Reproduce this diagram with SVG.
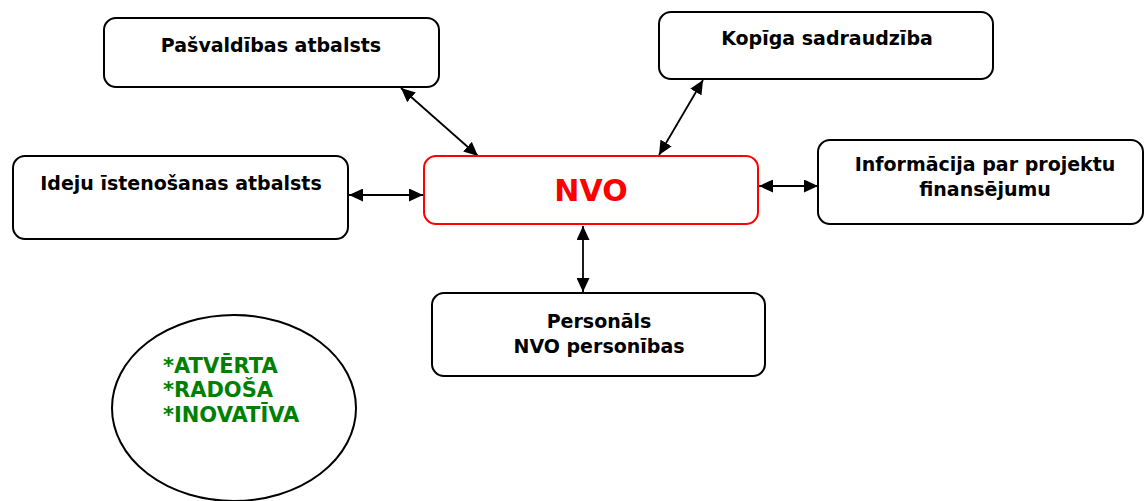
<svg xmlns="http://www.w3.org/2000/svg" width="1145" height="501" viewBox="0 0 1145 501">
<defs>
<style>
.box{fill:#fff;stroke:#000;stroke-width:2}
.main{fill:#fff;stroke:#ff0000;stroke-width:2}
.lbl{font-family:"DejaVu Sans",Verdana,sans-serif;font-weight:bold;font-size:19px;fill:#000;text-anchor:middle}
.nvo{font-family:"DejaVu Sans",Verdana,sans-serif;font-weight:bold;font-size:30px;fill:#ff0000;text-anchor:middle}
.grn{font-family:"DejaVu Sans",Verdana,sans-serif;font-weight:bold;font-size:21px;fill:#008000}
.conn{stroke:#000;stroke-width:1.8;fill:none;marker-start:url(#ah);marker-end:url(#ah)}
</style>
<marker id="ah" viewBox="0 0 10 10" refX="10" refY="5" markerWidth="14" markerHeight="13" markerUnits="userSpaceOnUse" orient="auto-start-reverse" preserveAspectRatio="none">
<path d="M0,0 L10,5 L0,10 z" fill="#000"/>
</marker>
</defs>
<rect width="1145" height="501" fill="#fff"/>
<g id="connectors">
<line class="conn" x1="401" y1="88" x2="478" y2="156"/>
<line class="conn" x1="703" y1="80" x2="659" y2="155"/>
<line class="conn" x1="349" y1="195" x2="423" y2="195"/>
<line class="conn" x1="759" y1="186" x2="818" y2="186"/>
<line class="conn" x1="583" y1="226" x2="583" y2="292"/>
</g>
<g id="n-pasvaldibas">
<rect class="box" x="104" y="18" width="335" height="69" rx="12"/>
<text class="lbl" x="271" y="52">Pašvaldības atbalsts</text>
</g>
<g id="n-kopiga">
<rect class="box" x="659" y="12" width="334" height="67" rx="12"/>
<text class="lbl" x="827" y="45">Kopīga sadraudzība</text>
</g>
<g id="n-ideju">
<rect class="box" x="13" y="156" width="335" height="83" rx="12"/>
<text class="lbl" x="181" y="190">Ideju īstenošanas atbalsts</text>
</g>
<g id="n-nvo">
<rect class="main" x="424" y="156" width="334" height="68" rx="12"/>
<text class="nvo" x="591" y="201">NVO</text>
</g>
<g id="n-info">
<rect class="box" x="818" y="140" width="325" height="84" rx="12"/>
<text class="lbl" x="985" y="171">Informācija par projektu</text>
<text class="lbl" x="985" y="196">finansējumu</text>
</g>
<g id="n-personals">
<rect class="box" x="432" y="293" width="333" height="83" rx="12"/>
<text class="lbl" x="599" y="328">Personāls</text>
<text class="lbl" x="599" y="353">NVO personības</text>
</g>
<g id="n-ellipse">
<ellipse cx="234" cy="408" rx="122" ry="93" fill="#fff" stroke="#000" stroke-width="2"/>
<text class="grn" x="163" y="373">*ATVĒRTA</text>
<text class="grn" x="163" y="397">*RADOŠA</text>
<text class="grn" x="163" y="422">*INOVATĪVA</text>
</g>
</svg>
